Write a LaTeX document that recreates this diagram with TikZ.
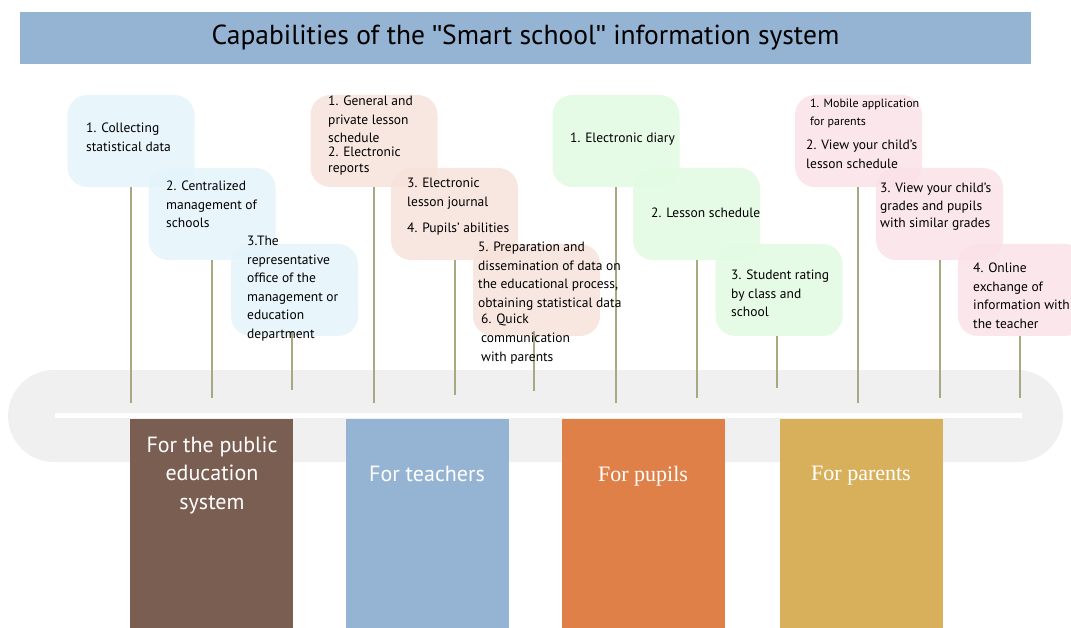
\documentclass[tikz,border=0pt]{standalone}
\usepackage{fontspec}
\setmainfont{PT Sans}
\newfontfamily\serifcol{Liberation Serif}
\newfontfamily\quotefont{Liberation Sans}
\newcommand{\sq}{{\quotefont\symbol{34}}}
\definecolor{titlebg}{HTML}{95B3D3}
\definecolor{barbg}{HTML}{F0F0F0}
\definecolor{stem}{HTML}{A8A882}
\definecolor{cbrown}{HTML}{7A5E52}
\definecolor{cblue}{HTML}{95B3D2}
\definecolor{corange}{HTML}{DE8048}
\definecolor{cgold}{HTML}{D8B05C}
\definecolor{fblue}{HTML}{E5F4FB}
\definecolor{fpeach}{HTML}{F7E3DC}
\definecolor{fgreen}{HTML}{E2FBE2}
\definecolor{fpink}{HTML}{FAE2E8}
\tikzset{
  callout/.style={minimum width=127pt,minimum height=92pt,rounded corners=20pt,fill opacity=0.85,inner sep=0pt},
  itemtext/.style={anchor=north west,inner sep=0pt,align=left,font=\fontsize{13.5}{18.5}\selectfont},
  itemline/.style={anchor=west,inner sep=0pt,font=\fontsize{13.5}{18.5}\selectfont},
  stemline/.style={draw=stem,line width=1.1pt},
  column/.style={minimum width=163pt,minimum height=209pt,anchor=north,inner sep=0pt},
  coltext/.style={text=white,align=center,font=\fontsize{22}{28.5}\selectfont},
}
\begin{document}
\begin{tikzpicture}[x=1pt,y=-1pt]
\clip (0,0) rectangle (1071,628);
\fill[white] (0,0) rectangle (1071,628);
% title
\node[fill=titlebg,minimum width=1011pt,minimum height=52pt,inner sep=0pt,
  font=\fontsize{27.5}{30}\selectfont] (title) at (525.5,38) {Capabilities of the \sq Smart school\sq{} information system};
% gray bar
\node[fill=barbg,minimum width=1055pt,minimum height=92pt,rounded corners=46pt,inner sep=0pt] (bar) at (535.5,416) {};
% stem end points
\coordinate (e1) at (132,403); \coordinate (e2) at (212,398); \coordinate (e3) at (292,390);
\coordinate (e4) at (374,403); \coordinate (e5) at (455,395); \coordinate (e6) at (534,391);
\coordinate (e7) at (616,403); \coordinate (e8) at (697,398); \coordinate (e9) at (777,388);
\coordinate (e10) at (858,403); \coordinate (e11) at (940,398); \coordinate (e12) at (1020,398);
% boxes
\node[callout,fill=fblue] (b1) at (131,141) {};
\node[callout,fill=fblue] (b2) at (212,214) {};
\node[callout,fill=fblue] (b3) at (294.5,290) {};
\node[callout,fill=fpeach] (t1) at (374,141) {};
\node[callout,fill=fpeach] (t2) at (454.5,214) {};
\node[callout,fill=fpeach] (t3) at (536.5,290) {};
\node[callout,fill=fgreen] (p1) at (616,141) {};
\node[callout,fill=fgreen] (p2) at (696.5,214) {};
\node[callout,fill=fgreen] (p3) at (779,290) {};
\node[callout,fill=fpink] (r1) at (858.5,141) {};
\node[callout,fill=fpink] (r2) at (939.5,214) {};
\node[callout,fill=fpink] (r3) at (1021.5,290) {};
\draw[stemline] (b1.south) -- (b1.south |- e1);
\draw[stemline] (b2.south) -- (b2.south |- e2);
\draw[stemline] ([yshift=5pt]b3.south -| e3) -- (e3);
\draw[stemline] (t1.south) -- (t1.south |- e4);
\draw[stemline] (t2.south -| e5) -- (e5);
\draw[stemline] ([yshift=5pt]t3.south -| e6) -- (e6);
\draw[stemline] (p1.south) -- (e7);
\draw[stemline] (p2.south -| e8) -- (e8);
\draw[stemline] (p3.south -| e9) -- (e9);
\draw[stemline] (r1.south -| e10) -- (e10);
\draw[stemline] (r2.south -| e11) -- (e11);
\draw[stemline] (r3.south -| e12) -- (e12);
% white line
\fill[white] (55,413) rectangle (1022,418);
% columns
\node[column,fill=cbrown] (c1) at (211,419) {};
\node[column,fill=cblue] (c2) at (427.5,419) {};
\node[column,fill=corange] (c3) at (643.5,419) {};
\node[column,fill=cgold] (c4) at (861,419) {};
\node[coltext] (c1t) at (212,475) {For the public\\education\\system};
\node[coltext] (c2t) at (427,474) {For teachers};
\node[coltext,font=\serifcol\fontsize{22}{28}\selectfont] (c3t) at (643,476) {For pupils};
\node[coltext,font=\serifcol\fontsize{22}{28}\selectfont] (c4t) at (861,476) {For parents};
% texts
\node[itemtext] (b1t) at (86,123) {1. Collecting\\statistical data};
\node[itemtext] (b2t) at (166,181) {2. Centralized\\management of\\schools};
\node[itemtext] (b3t) at (247,236) {3.The\\representative\\office of the\\management or\\education\\department};
\node[itemtext] (t1a) at (328,96) {1. General and\\private lesson\\schedule};
\node[itemtext,font=\fontsize{13.5}{16}\selectfont] (t1b) at (328,147) {2. Electronic\\reports};
\node[itemtext] (t2a) at (407,178) {3. Electronic\\lesson journal};
\node[itemline] (t2b) at (407,229) {4. Pupils' abilities};
\node[itemtext] (t3a) at (478,242) {5. Preparation and\\dissemination of data on\\the educational process,\\obtaining statistical data};
\node[itemtext,font=\fontsize{13.5}{19}\selectfont] (t3b) at (481,314) {6. Quick\\communication\\with parents};
\node[itemline] (p1t) at (570,139) {1. Electronic diary};
\node[itemline] (p2t) at (651,213) {2. Lesson schedule};
\node[itemtext] (p3t) at (731,270) {3. Student rating\\by class and\\school};
\node[itemtext,font=\fontsize{12}{18}\selectfont] (r1a) at (810,99) {1. Mobile application\\for parents};
\node[itemtext] (r1b) at (806,140) {2. View your child's\\lesson schedule};
\node[itemtext,font=\fontsize{13.5}{17.5}\selectfont] (r2t) at (880,183) {3. View your child's\\grades and pupils\\with similar grades};
\node[itemtext] (r3t) at (973,263) {4. Online\\exchange of\\information with\\the teacher};
\end{tikzpicture}
\end{document}
